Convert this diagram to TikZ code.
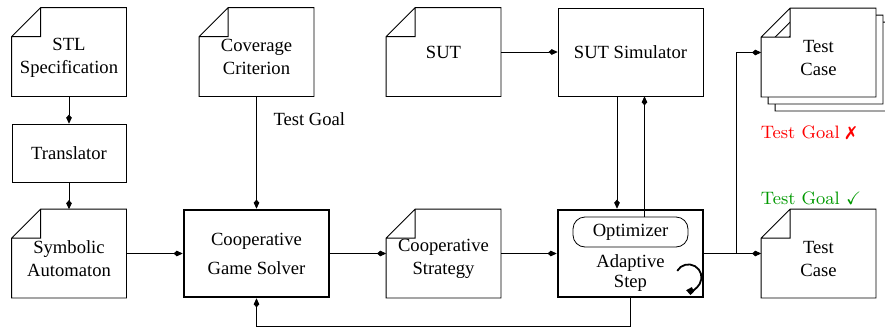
\documentclass[tikz,border=0pt]{standalone}
\usepackage{fontspec}
\usepackage{amssymb}
\usepackage{pifont}
\newfontfamily\nodefont{Liberation Serif}
\usetikzlibrary{arrows.meta, positioning, backgrounds}
\tikzset{
        x=0.5pt, y=-0.5pt, % one unit is one pixel of the sketch
        >={Kite[length=4.5pt,width=2.8pt,inset=1.6pt]}, % small diamond heads
        every node/.style={font=\nodefont\fontsize{9.3}{11.5}\selectfont, align=center},
        low/.style={yshift=-2.7pt}, % two-line text sits a bit under the middle
    }
\tikzstyle{doc}=[rectangle, minimum width=57pt, minimum height=44pt, inner sep=0pt]
\tikzstyle{box}=[draw, rectangle, minimum width=57pt, minimum height=29pt]
\tikzstyle{bigbox}=[draw, line width=1.4pt, minimum width=72.5pt, minimum height=43.5pt]
\tikzstyle{goal}=[font=\fontsize{9}{11}\selectfont]

\begin{document}
\begin{tikzpicture}
    \useasboundingbox (0,0) rectangle (885,327);

    \node[doc, label={[low]center:{STL\\Specification}}] (stl) at (69,52) {};
    \node[box] (trans) at (69,153) {Translator};
    \node[doc, label={[low]center:{Symbolic\\Automaton}}] (sym) at (69,253.5) {};
    \node[doc, label={[low]center:{Coverage\\Criterion}}] (cov) at (256.5,52) {};
    \node[bigbox] (solver) at (256.5,253.5) {Cooperative\\[3pt]Game Solver};
    \node[doc] (sut) at (443.5,52) {SUT};
    \node[doc, label={[low]center:{Cooperative\\Strategy}}] (strat) at (443.5,253.5) {};
    \node[box, minimum width=72.5pt, minimum height=44pt] (sutsim) at (630.5,52) {SUT Simulator};
    \node[bigbox] (adapt) at (630.5,253.5) {};
    \node[draw, rounded corners=6pt, minimum width=57.5pt, minimum height=15pt, inner sep=0pt] (opt) at (630.5,232) {Optimizer};
    \node (adtxt) at (630.5,273) {Adaptive\\[-1.5pt]Step};
    \node[doc] (tc3) at (832.5,66.5) {};
    \node[doc] (tc2) at (825.5,59.5) {};
    \node[doc, label={[low]center:{Test\\Case}}] (tc) at (818.5,52.5) {};
    \node[doc, label={[low]center:{Test\\Case}}] (tcb) at (818.5,253.5) {};

    % folded corners of the documents
    \begin{scope}[on background layer]
    \foreach \n in {stl,sym,cov,sut,strat,tc3,tc2,tc,tcb}
        \draw[fill=white] ([xshift=14.5pt]\n.north west) -- (\n.north east) -- (\n.south east)
            -- (\n.south west) -- ([yshift=-14.5pt]\n.north west) -- cycle
            ([yshift=-14.5pt]\n.north west) -- ++(14.5pt,0) -- ++(0,14.5pt);
    \end{scope}

    \draw[->] (stl) -- (trans);
    \draw[->] (trans) -- (sym);
    \draw[->] (sym) -- (solver);
    \draw[->] (cov) -- node[right=5pt, pos=0.2] (tgoal) {Test Goal} (solver);
    \draw[->] (solver) -- (strat);
    \draw[->] (strat) -- (adapt);
    \draw[->] (sut) -- (sutsim);
    \draw[->] ([xshift=-6.75pt]sutsim.south) -- ([xshift=-6.75pt]adapt.north);
    \draw[->] ([xshift=7pt]opt.north) -- ([xshift=7pt]sutsim.south);
    \draw[->] (adapt) -- (tcb);
    \draw[->] (adapt.east) -- ++(16pt,0) |- (tc.west);
    \draw[->] (adapt.south) -- ++(0,-14pt) -| (solver.south);

    % loop mark of the adaptive step
    \draw[line width=0.9pt, -{Kite[length=4pt,width=4pt,inset=1.5pt]}] ([shift={(-13.6pt,13.75pt)}]adapt.south east)
        arc[start angle=150, end angle=-100, radius=6.5pt];

    \node[goal, text=red] (fail) at (808.5,133) {Test Goal \ding{55}};
    \node[goal, text=green!60!black] (pass) at (811,198) {Test Goal $\checkmark$};
\end{tikzpicture}
\end{document}
